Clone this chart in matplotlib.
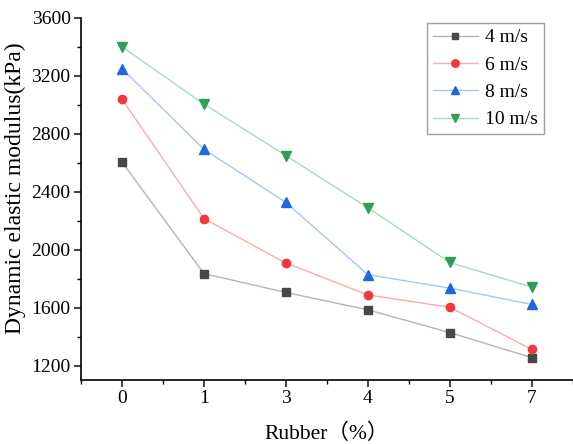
import numpy as np
import matplotlib
matplotlib.use('Agg')
import matplotlib.pyplot as plt
from matplotlib.ticker import MultipleLocator, AutoMinorLocator

plt.rcParams['font.family'] = ['Liberation Serif', 'Noto Sans CJK SC']
plt.rcParams['mathtext.fontset'] = 'stix'

rubber = ['0', '1', '3', '4', '5', '7']
labels = ['4 m/s', '6 m/s', '8 m/s', '10 m/s']
v4 = [2605, 1835, 1705, 1585, 1428, 1255]
v6 = [3040, 2215, 1908, 1688, 1603, 1312]
v8 = [3250, 2693, 2327, 1828, 1735, 1622]
v10 = [3402, 3005, 2650, 2290, 1912, 1742]

line_cols = ['#b4b4b4', '#ffaaaa', '#a9c6f2', '#a8dcb8']
mark_cols = ['#474747', '#f03a3a', '#1f66e0', '#2e9e58']
markers = ['s', 'o', '^', 'v']
msizes = [5.5, 6, 6.5, 6.5]

fig = plt.figure(figsize=(5.73, 4.44), dpi=100)
ax = fig.add_axes([0.1414, 0.144, 0.858, 0.8155])

x = np.arange(len(rubber))
for ys, lab, lc, mc, m, s in zip([v4, v6, v8, v10], labels, line_cols, mark_cols, markers, msizes):
    ax.plot(x, ys, color=lc, lw=1.0, marker=m, ms=s, mfc=mc, mec=mc, label=lab)

ax.set_xlim(-0.5, 5.5)
ax.set_ylim(1100, 3600)
ax.set_xticks(x)
ax.set_xticklabels(rubber)
ax.yaxis.set_major_locator(MultipleLocator(400))
ax.yaxis.set_minor_locator(MultipleLocator(200))
ax.xaxis.set_minor_locator(AutoMinorLocator(2))
ax.set_yticks(np.arange(1200, 3601, 400))

for s in ['top', 'right']:
    ax.spines[s].set_visible(False)
for s in ['left', 'bottom']:
    ax.spines[s].set_linewidth(1.2)
ax.tick_params(which='major', direction='out', length=5, width=1.2, labelsize=14, color='#222222')
ax.tick_params(axis='x', which='major', pad=2)
ax.tick_params(axis='y', which='major', pad=2.5)
ax.tick_params(which='minor', direction='out', length=3, width=1.0)

ax.set_xlabel('Rubber（%）', fontsize=15.5, labelpad=12)
ax.set_ylabel('Dynamic elastic modulus(kPa)', fontsize=17)
ax.yaxis.set_label_coords(-0.112, 0.53)

leg = ax.legend(loc='upper right', bbox_to_anchor=(0.942, 0.986), borderaxespad=0,
                fontsize=14, frameon=True, fancybox=False, edgecolor='#888888',
                handlelength=2.3, borderpad=0.3, labelspacing=0.5, handletextpad=0.4,
                markerscale=0.9)
leg.get_frame().set_linewidth(1.0)

fig.savefig('out.png', dpi=100)
